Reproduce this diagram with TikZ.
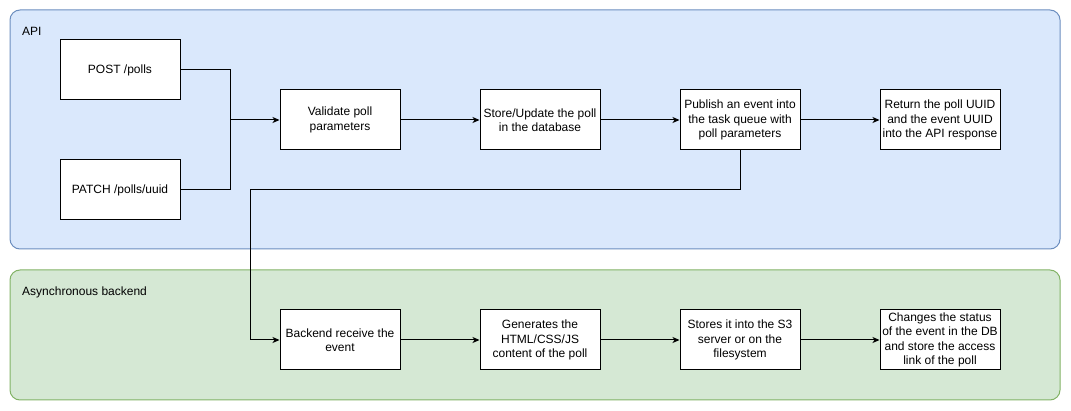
\documentclass[tikz,border=0pt]{standalone}
\usepackage{fontspec}
\setmainfont{Liberation Sans}
\usepackage{tikz}
\usetikzlibrary{positioning,arrows.meta}
\definecolor{apifill}{HTML}{DAE8FC}
\definecolor{apiline}{HTML}{6C8EBF}
\definecolor{asyncfill}{HTML}{D5E8D4}
\definecolor{asyncline}{HTML}{82B366}

\begin{document}
\begin{tikzpicture}[x=1pt,y=-1pt,
    stepbox/.style={draw,fill=white,line width=1pt,minimum width=120pt,minimum height=60pt,
        inner sep=1pt,align=center,font=\fontsize{12}{14.5}\selectfont},
    lane/.style={line width=1pt,rounded corners=10pt},
    lanelabel/.style={anchor=west,inner sep=0pt,font=\fontsize{12}{14.5}\selectfont},
    flow/.style={line width=1pt,-{Stealth[length=7pt,width=6pt,inset=2pt]}}]
                \useasboundingbox (0,0) rectangle (1071,411);
                % lanes
                \draw[lane,fill=apifill,draw=apiline] (10,10) rectangle (1060,249);
                \draw[lane,fill=asyncfill,draw=asyncline] (10,270) rectangle (1060,400);
                \node[lanelabel] (api) at (22,31) {API};
                \node[lanelabel] (async) at (22,292) {Asynchronous backend};
                % API steps
                \node[stepbox] (post) at (120,70) {POST /polls};
                \node[stepbox] (patch) at (120,190) {PATCH /polls/uuid};
                \node[stepbox] (validate) at (340,120) {Validate poll\\parameters};
                \node[stepbox] (store) at (540,120) {Store/Update the poll\\in the database};
                \node[stepbox] (publish) at (740,120) {Publish an event into\\the task queue with\\poll parameters};
                \node[stepbox] (return) at (940,120) {Return the poll UUID\\and the event UUID\\into the API response};
                % backend steps
                \node[stepbox] (receive) at (340,340) {Backend receive the\\event};
                \node[stepbox] (generate) at (540,340) {Generates the\\HTML/CSS/JS\\content of the poll};
                \node[stepbox] (upload) at (740,340) {Stores it into the S3\\server or on the\\filesystem};
                \node[stepbox] (status) at (940,340) {Changes the status\\of the event in the DB\\and store the access\\link of the poll};
                \coordinate (join) at (230,120);
                \coordinate (turn) at (250,190);
                \draw[line width=1pt] (post.east) -| (join);
                \draw[line width=1pt] (patch.east) -| (join);
                \draw[flow] (join) -- (validate.west);
                \draw[flow] (validate) -- (store);
                \draw[flow] (store) -- (publish);
                \draw[flow] (publish) -- (return);
                \draw[flow] (publish.south) |- (turn) |- (receive.west);
                \draw[flow] (receive) -- (generate);
                \draw[flow] (generate) -- (upload);
                \draw[flow] (upload) -- (status);
            \end{tikzpicture}
\end{document}
